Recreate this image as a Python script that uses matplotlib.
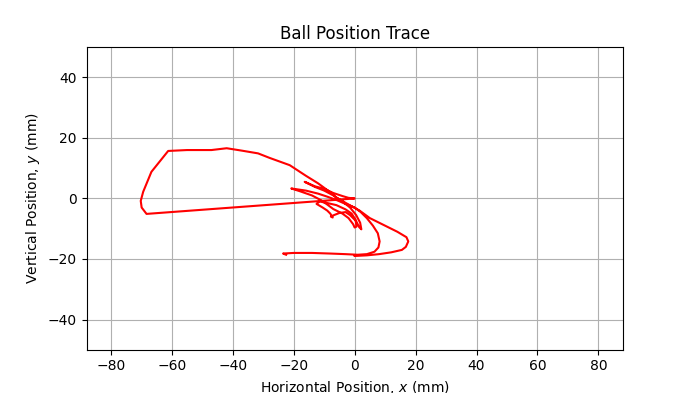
import matplotlib
matplotlib.use("Agg")
import matplotlib.pyplot as plt

x_pos = [-22.5, -23.5, -20.0, -14.0, -8.0, -3.0, 1.0, 4.0, 6.5, 7.8, 8.2, 7.6, 6.0, 4.0, 2.0, 0.0,
         -3.0, -6.0, -9.0, -12.0, -16.0, -20.8,
         -18.0, -14.0, -11.0, -9.0, -7.0, -4.0, -2.0, -0.5, 0.0, 0.6, 0.3, -1.0, -3.0, -6.0, -9.0, -11.5, -12.5,
         -10.5, -9.0, -8.0, -7.2, -7.8, -6.8, -5.0, -3.0, -1.5, 0.5, 1.5, 2.2, 1.8, 0.5, -1.5, -4.0, -7.0, -10.0, -13.0, -16.4,
         -13.0, -10.0, -7.0, -4.0, -2.0, 0.0,
         -68.3, -69.9, -70.2, -69.4, -66.7, -61.2, -55.0, -47.0, -42.0, -37.0, -31.7, -27.9, -21.3,
         -16.0, -12.0, -8.2, -6.0, -2.0, 1.6, 5.0, 10.0, 14.0, 17.0, 17.6, 16.8, 15.5, 12.0, 8.0, 4.0, 0.0]
y_pos = [-18.6, -18.2, -18.0, -18.0, -18.2, -18.4, -18.6, -18.4, -17.6, -16.2, -14.2, -11.5, -9.0, -6.5, -4.5, -3.0,
         -1.8, -0.5, 0.6, 1.6, 2.6, 3.3,
         2.4, 1.0, -0.6, -2.0, -3.5, -5.0, -6.5, -8.5, -9.6, -9.3, -7.0, -5.0, -3.6, -2.2, -1.5, -1.0, -1.8,
         -3.0, -4.0, -5.0, -6.3, -6.0, -5.5, -4.8, -4.5, -5.5, -7.5, -9.5, -10.2, -8.0, -5.5, -3.0, -1.0, 1.0, 2.6, 3.8, 5.5,
         4.0, 3.2, 1.8, 0.8, 0.2, 0.0,
         -5.1, -3.0, -0.8, 2.2, 8.8, 15.7, 16.0, 16.0, 16.6, 15.8, 14.9, 13.4, 11.0,
         7.5, 5.0, 2.2, 0.3, -2.0, -4.0, -6.5, -9.0, -11.0, -12.8, -14.2, -16.0, -17.0, -17.8, -18.4, -18.8, -19.0]

fig, ax = plt.subplots(figsize=(6.92, 3.93), dpi=100)
ax.plot(x_pos, y_pos, color='red', linewidth=1.5)
ax.set_xlim(-88, 88)
ax.set_ylim(-50, 50)
ax.grid(True)
ax.set_title('Ball Position Trace')
ax.set_xlabel('Horizontal Position, $x$ (mm)')
ax.set_ylabel('Vertical Position, $y$ (mm)')
fig.savefig('out.png', dpi=100)
